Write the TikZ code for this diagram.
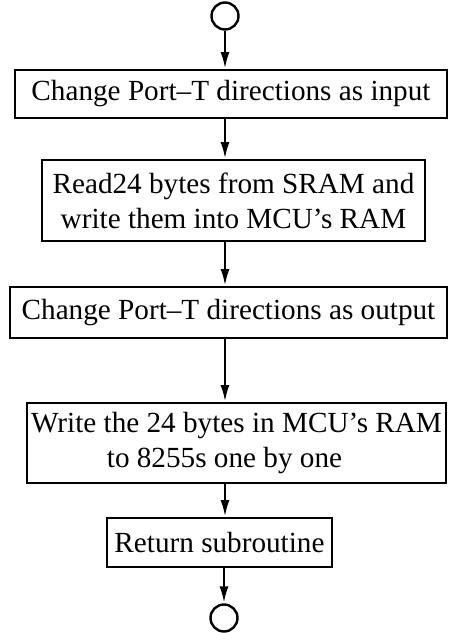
\documentclass[tikz,border=0pt]{standalone}
\usepackage{fontspec}
\setmainfont{Liberation Serif}
\usetikzlibrary{arrows.meta}
\begin{document}
\begin{tikzpicture}[x=1pt, y=-1pt, > = {Latex[length=17pt, width=9pt]},
    stepbox/.style={draw, line width=2pt, inner sep=0pt, align=center,
        font=\fontsize{29.2}{35}\selectfont},
    terminal/.style={draw, circle, line width=2.4pt, minimum size=27pt, inner sep=0pt},
    flow/.style={->, line width=2.6pt}]

    \useasboundingbox (0, 0) rectangle (449, 633);

    % Terminals
    \node [terminal] (start) at (225, 16) {};
    \node [terminal] (stop) at (224, 618) {};

    % Steps
    \node [stepbox, minimum width=432pt, minimum height=48pt] (input) at (231, 94)
        {Change Port--T directions as input};
    \node [stepbox, minimum width=383pt, minimum height=81pt] (read) at (233.5, 200.5)
        {Read24 bytes from SRAM and\\write them into MCU's RAM};
    \node [stepbox, minimum width=437pt, minimum height=51pt] (output) at (228.5, 312.5)
        {Change Port--T directions as output};
    \node [stepbox, minimum width=419pt, minimum height=80pt] (write) at (236.5, 443)
        {Write the 24 bytes in MCU's RAM\\to 8255s one by one\hspace*{24pt}};
    \node [stepbox, minimum width=225pt, minimum height=49pt] (return) at (219.5, 542.5)
        {Return subroutine};

    % Flow
    \draw [flow] (start) -- (start |- input.north);
    \draw [flow] (start |- input.south) -- (start |- read.north);
    \draw [flow] (start |- read.south) -- (start |- output.north);
    \draw [flow] (start |- output.south) -- (start |- write.north);
    \draw [flow] (start |- write.south) -- (start |- return.north);
    \draw [flow] (stop |- return.south) -- (stop);
\end{tikzpicture}
\end{document}
